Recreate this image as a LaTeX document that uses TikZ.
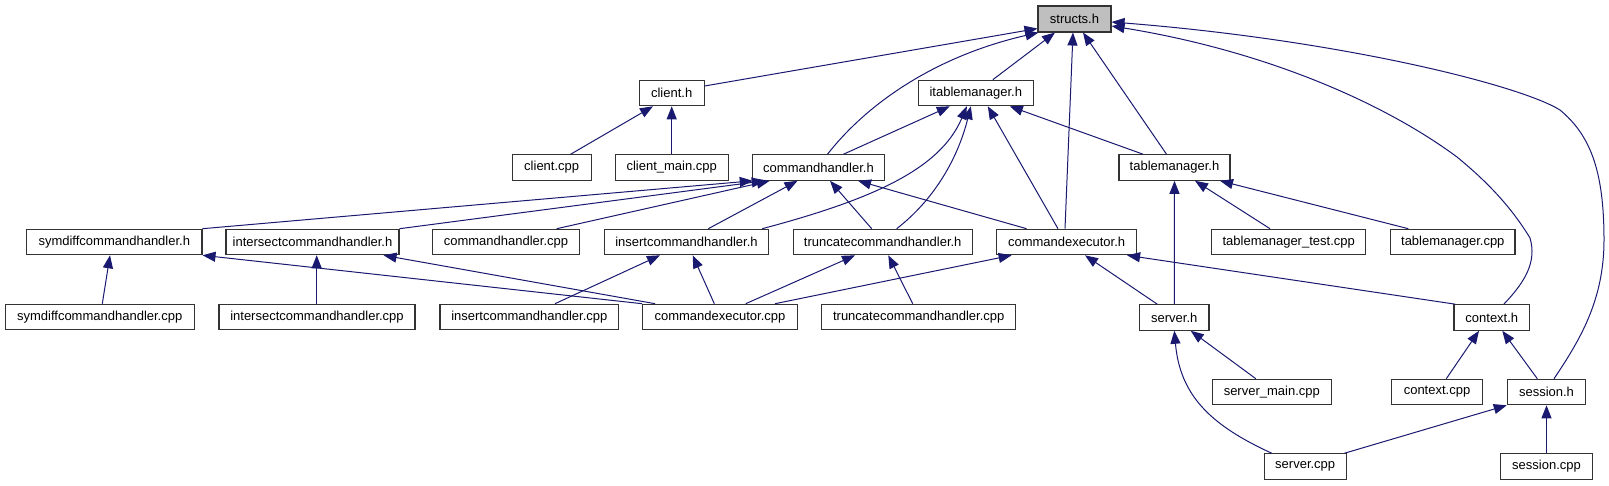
\documentclass[tikz,border=0pt]{standalone}
\usepackage{fontspec}
\setmainfont{Liberation Sans}
\usetikzlibrary{arrows.meta}
\definecolor{edgecol}{HTML}{191970}
\definecolor{rootgray}{HTML}{BFBFBF}
\begin{document}
\begin{tikzpicture}[x=1pt,y=-1pt,
  box/.style={draw=black!80, line width=1.1pt, fill=white, inner sep=0pt,
    minimum height=25.5pt, font=\fontsize{13pt}{15pt}\selectfont, anchor=center},
  rootbox/.style={box, fill=rootgray, minimum height=26pt},
  edge/.style={draw=edgecol, line width=1pt, -{Triangle[length=13pt,width=10pt]}}]
\useasboundingbox (0,0) rectangle (1609,485);
% nodes
\node[rootbox, minimum width=73pt] (structs) at (1074.5,19) {structs.h};
\node[box, minimum width=64.7pt] (clienth) at (671.7,93) {client.h};
\node[box, minimum width=115pt] (itm) at (975.8,93) {itablemanager.h};
\node[box, minimum width=78.7pt] (clientcpp) at (551.7,167.5) {client.cpp};
\node[box, minimum width=113.3pt] (clientmain) at (671.7,167.5) {client\_main.cpp};
\node[box, minimum width=132.4pt] (chh) at (818.5,167.5) {commandhandler.h};
\node[box, minimum width=111pt] (tmh) at (1174.5,167.5) {tablemanager.h};
\node[box, minimum width=175.3pt] (symh) at (114.3,242) {symdiffcommandhandler.h};
\node[box, minimum width=173pt] (inth) at (312.5,242) {intersectcommandhandler.h};
\node[box, minimum width=146.6pt] (chcpp) at (506,242) {commandhandler.cpp};
\node[box, minimum width=164.4pt] (insh) at (686.5,242) {insertcommandhandler.h};
\node[box, minimum width=178.7pt] (trh) at (882.7,242) {truncatecommandhandler.h};
\node[box, minimum width=139.8pt] (ceh) at (1066.6,242) {commandexecutor.h};
\node[box, minimum width=154pt] (tmtest) at (1288.7,242) {tablemanager\_test.cpp};
\node[box, minimum width=124.3pt] (tmcpp) at (1452.8,242) {tablemanager.cpp};
\node[box, minimum width=189.3pt] (symcpp) at (99.7,317) {symdiffcommandhandler.cpp};
\node[box, minimum width=196pt] (intcpp) at (317,317) {intersectcommandhandler.cpp};
\node[box, minimum width=178.7pt] (inscpp) at (529.3,317) {insertcommandhandler.cpp};
\node[box, minimum width=154.6pt] (cecpp) at (720,317) {commandexecutor.cpp};
\node[box, minimum width=194pt] (trcpp) at (918.7,317) {truncatecommandhandler.cpp};
\node[box, minimum width=69.3pt] (serverh) at (1174.3,317.5) {server.h};
\node[box, minimum width=75.7pt] (contexth) at (1491.8,317.5) {context.h};
\node[box, minimum width=119pt] (servermain) at (1271.8,392) {server\_main.cpp};
\node[box, minimum width=90.6pt] (contextcpp) at (1437,392) {context.cpp};
\node[box, minimum width=78.4pt] (sessionh) at (1546.5,392) {session.h};
\node[box, minimum width=82.3pt] (servercpp) at (1305.2,466.5) {server.cpp};
\node[box, minimum width=91.6pt] (sessioncpp) at (1546.5,466.5) {session.cpp};
% edges to structs.h
\draw[edge] ([yshift=7pt]clienth.east) -- ([yshift=4pt]structs.south west);
\draw[edge] ([xshift=9pt]chh.north) .. controls (870,100) and (940,55) .. ([xshift=1pt]structs.south west);
\draw[edge] ([xshift=17pt]itm.north) -- ([xshift=-19.5pt]structs.south);
\draw[edge] ([xshift=-1.6pt]ceh.north) -- ([xshift=-1.5pt]structs.south);
\draw[edge] ([xshift=-8pt]tmh.north) -- ([xshift=8.5pt]structs.south);
\draw[edge] ([xshift=12pt]contexth.north) .. controls (1525,282) and (1537,262) .. (1530,238)
  .. controls (1510,205) and (1485,180) .. (1457,157)
  .. controls (1380,100) and (1260,50) .. ([yshift=-7pt]structs.east);
\draw[edge] ([xshift=7.5pt]sessionh.north) .. controls (1580,340) and (1604,300) .. (1604,240)
  .. controls (1604,170) and (1590,135) .. (1560,110)
  .. controls (1520,85) and (1340,40) .. ([yshift=-3pt]structs.east);
% client.h
\draw[edge] ([xshift=19pt]clientcpp.north) -- ([xshift=-18.7pt]clienth.south);
\draw[edge] (clientmain.north) -- (clienth.south);
% itablemanager.h
\draw[edge] ([xshift=25pt]chh.north) -- ([xshift=-26pt]itm.south);
\draw[edge] ([xshift=-7pt]insh.north east) .. controls (870,200) and (940,170) .. ([xshift=-9pt]itm.south);
\draw[edge] ([xshift=14pt]trh.north) .. controls (940,195) and (960,150) .. ([xshift=-5pt]itm.south);
\draw[edge] ([xshift=-8.6pt]ceh.north) -- ([xshift=12pt]itm.south);
\draw[edge] ([xshift=-31.5pt]tmh.north) -- ([xshift=34pt]itm.south);
% commandhandler.h
\draw[edge] (symh.north east) -- ([xshift=1pt]chh.south west);
\draw[edge] (inth.north east) -- ([xshift=13pt]chh.south west);
\draw[edge] ([xshift=50.7pt]chcpp.north) -- ([xshift=18pt]chh.south west);
\draw[edge] ([xshift=21.8pt]insh.north) -- ([xshift=-21pt]chh.south);
\draw[edge] ([xshift=-11pt]trh.north) -- ([xshift=11.5pt]chh.south);
\draw[edge] ([xshift=-40pt]ceh.north) -- ([xshift=39.5pt]chh.south);
% tablemanager.h
\draw[edge] (serverh.north) -- (tmh.south);
\draw[edge] ([xshift=-18.7pt]tmtest.north) -- ([xshift=20.5pt]tmh.south);
\draw[edge] ([xshift=-44.5pt]tmcpp.north) -- ([xshift=45.5pt]tmh.south);
% row 3 headers
\draw[edge] ([xshift=2.6pt]symcpp.north) -- ([xshift=-4.3pt]symh.south);
\draw[edge] (cecpp.north west) -- (symh.south east);
\draw[edge] ([xshift=-0.3pt]intcpp.north) -- ([xshift=4.2pt]inth.south);
\draw[edge] ([xshift=13pt]cecpp.north west) -- ([xshift=-16pt]inth.south east);
\draw[edge] ([xshift=25.7pt]inscpp.north) -- ([xshift=-26.5pt]insh.south);
\draw[edge] ([xshift=-5.7pt]cecpp.north) -- ([xshift=6.2pt]insh.south);
\draw[edge] ([xshift=25.7pt]cecpp.north) -- ([xshift=-27.7pt]trh.south);
\draw[edge] ([xshift=-6pt]trcpp.north) -- ([xshift=5.6pt]trh.south);
\draw[edge] ([xshift=55pt]cecpp.north) -- ([xshift=-55pt]ceh.south);
\draw[edge] ([xshift=-17pt]serverh.north) -- ([xshift=18.4pt]ceh.south);
\draw[edge] ([xshift=2pt]contexth.north west) -- ([xshift=-10pt]ceh.south east);
% server / context / session
\draw[edge] ([xshift=-16pt]servermain.north) -- ([xshift=16.4pt]serverh.south);
\draw[edge] ([xshift=-33.5pt]servercpp.north) .. controls (1210,425) and (1180,395) .. (serverh.south);
\draw[edge] ([xshift=9.3pt]contextcpp.north) -- ([xshift=-12.8pt]contexth.south);
\draw[edge] ([xshift=-9.2pt]sessionh.north) -- ([xshift=10.5pt]contexth.south);
\draw[edge] ([xshift=-2.3pt]servercpp.north east) -- (sessionh.south west);
\draw[edge] (sessioncpp.north) -- (sessionh.south);
\end{tikzpicture}
\end{document}
